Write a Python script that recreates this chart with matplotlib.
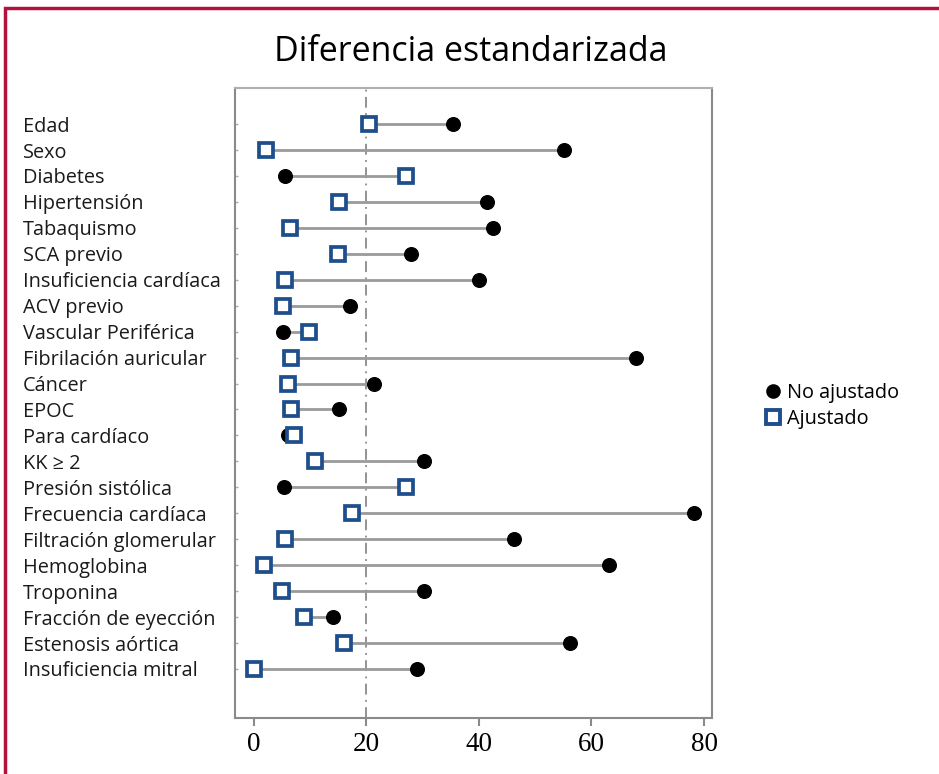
import matplotlib
matplotlib.use("Agg")
import matplotlib.pyplot as plt
from matplotlib.lines import Line2D
from matplotlib.patches import Rectangle
import matplotlib.transforms as mtransforms

categories = ["Edad", "Sexo", "Diabetes", "Hipertensión", "Tabaquismo", "SCA previo",
              "Insuficiencia cardíaca", "ACV previo", "Vascular Periférica",
              "Fibrilación auricular", "Cáncer", "EPOC", "Para cardíaco", "KK ≥ 2",
              "Presión sistólica", "Frecuencia cardíaca", "Filtración glomerular",
              "Hemoglobina", "Troponina", "Fracción de eyección", "Estenosis aórtica",
              "Insuficiencia mitral"]
no_ajustado = [35.5, 55.1, 5.5, 41.5, 42.6, 27.9, 40.1, 17.2, 5.2, 67.9, 21.4, 15.1,
               6.2, 30.2, 5.4, 78.2, 46.2, 63.2, 30.2, 14.1, 56.2, 29.0]
ajustado = [20.5, 2.3, 27.0, 15.2, 6.4, 15.0, 5.65, 5.3, 9.9, 6.7, 6.1, 6.6,
            7.2, 11.0, 27.0, 17.5, 5.65, 1.9, 5.1, 9.0, 16.0, 0.1]
xticks = [0, 20, 40, 60, 80]
title = "Diferencia estandarizada"
legend_labels = ["No ajustado", "Ajustado"]

W, H = 939, 774
fig = plt.figure(figsize=(W / 100, H / 100), dpi=100)
ax = fig.add_axes([235 / W, 1 - 718 / H, (712 - 235) / W, (718 - 88) / H])

blue = "#1f4e8c"
gray = "#9a9a9a"
ys = list(range(len(categories)))

for y, a, b in zip(ys, no_ajustado, ajustado):
    ax.plot([a, b], [y, y], color=gray, lw=2, zorder=1, solid_capstyle="butt")
ax.axvline(20, color="#8a8a8a", lw=1.3, ls=(0, (6, 3, 1, 3)), zorder=0)
ax.plot(no_ajustado, ys, ls="none", marker="o", ms=9.8, color="black", zorder=3)
ax.plot(ajustado, ys, ls="none", marker="s", ms=9.8, mfc="white", mec=blue, mew=2.7, zorder=4)

ax.set_xlim(-3.29, 81.4)
ax.set_ylim(22.89, -1.39)
ax.set_xticks(xticks)
ax.set_xticklabels([str(t) for t in xticks], fontfamily="Liberation Serif", fontsize=19.5)
ax.tick_params(axis="x", direction="out", length=6, width=1.5, color="#8a8a8a", pad=4)
ax.set_yticks(ys)
ax.tick_params(axis="y", direction="in", length=2, width=1, color="#aaaaaa", labelleft=False)
for s in ax.spines.values():
    s.set_color("#8a8a8a")
    s.set_linewidth(1.5)
ax.spines["top"].set_color("#b0b0b0")

trans = mtransforms.blended_transform_factory(fig.transFigure, ax.transData)
for y, c in zip(ys, categories):
    ax.text(23 / W, y, c, transform=trans, ha="left", va="center_baseline",
            fontsize=14.3, fontfamily="Open Sans", color="#1a1a1a")

fig.text(471 / W, 1 - 52 / H, title, ha="center", va="center",
         fontsize=24.5, fontfamily="Open Sans", color="black")

handles = [Line2D([], [], ls="none", marker="o", ms=9.5, color="black"),
           Line2D([], [], ls="none", marker="s", ms=9.5, mfc="white", mec=blue, mew=2.8)]
fig.legend(handles, legend_labels, loc="center left", bbox_to_anchor=(741 / W, 1 - 406 / H),
           frameon=False, handletextpad=0.0, handlelength=1.4, labelspacing=0.3,
           prop={"family": "Open Sans", "size": 14.3})

fig.patches.append(Rectangle((5 / W, -0.1), 1.2, (1 - 8 / H) + 0.1, transform=fig.transFigure,
                             fill=False, edgecolor="#b3123f", lw=2.5, zorder=10))

fig.savefig("out.png", dpi=100)
